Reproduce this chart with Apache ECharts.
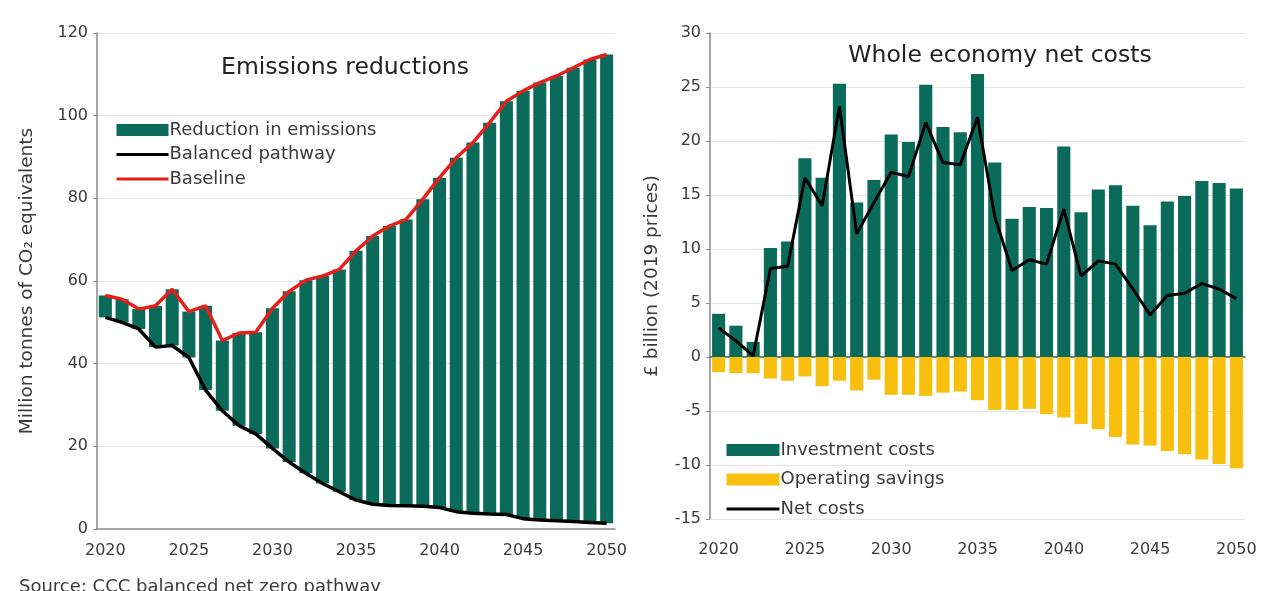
<!DOCTYPE html>
<html>
<head>
<meta charset="utf-8">
<script src="https://cdn.jsdelivr.net/npm/echarts@6/dist/echarts.min.js"></script>
<style>
  html, body { margin: 0; padding: 0; background: #fff; }
  #chart { width: 1263px; height: 591px; }
</style>
</head>
<body>
<div id="chart"></div>
<script>
// years on both panels
const years = []
for (let y = 2020; y <= 2050; y++) years.push(String(y))

// left panel: MtCO2e
const baseline = [56.5, 55.6, 53.2, 54, 58, 52.6, 54, 45.6, 47.4, 47.6, 53.4, 57.5, 60.2, 61.2, 62.8, 67.3,
  70.9, 73.3, 74.9, 79.8, 85, 89.8, 93.5, 98.3, 103.5, 106, 108, 109.6, 111.6, 113.6, 114.8]
const balancedPathway = [51.2, 50, 48.4, 44, 44.4, 41.5, 33.6, 28.6, 25, 23, 19.5, 16.2, 13.5, 11, 9, 7,
  6, 5.7, 5.6, 5.5, 5.2, 4.2, 3.8, 3.6, 3.5, 2.5, 2.2, 2.0, 1.8, 1.6, 1.4]

// right panel: £ billion (2019 prices)
const investmentCosts = [4.0, 2.9, 1.4, 10.1, 10.7, 18.4, 16.6, 25.3, 14.3, 16.4, 20.6, 19.9, 25.2, 21.3, 20.8, 26.2,
  18.0, 12.8, 13.9, 13.8, 19.5, 13.4, 15.5, 15.9, 14.0, 12.2, 14.4, 14.9, 16.3, 16.1, 15.6]
const operatingSavings = [-1.4, -1.5, -1.5, -2.0, -2.2, -1.8, -2.7, -2.2, -3.1, -2.1, -3.5, -3.5, -3.6, -3.3, -3.2, -4.0,
  -4.9, -4.9, -4.8, -5.3, -5.6, -6.2, -6.7, -7.4, -8.1, -8.2, -8.7, -9.0, -9.5, -9.9, -10.3]
const netCosts = [2.7, 1.5, 0.1, 8.2, 8.4, 16.6, 14.0, 23.2, 11.4, 14.3, 17.1, 16.7, 21.7, 18.0, 17.8, 22.2,
  13.0, 8.0, 9.0, 8.6, 13.7, 7.5, 8.9, 8.6, 6.3, 3.9, 5.7, 5.9, 6.8, 6.3, 5.4]

// green bar = gap between baseline and pathway, stacked on an invisible pathway bar
const reduction = baseline.map((v, i) => +(v - balancedPathway[i]).toFixed(1))

const GREEN = '#0b6b5b'
const YELLOW = '#f8bf0f'
const RED = '#e3201b'
const FONT = 'DejaVu Sans'
const TXT = '#3a3a3a'

const catAxis = (grid, extra) => Object.assign({
  type: 'category',
  gridIndex: grid,
  data: years,
  boundaryGap: true,
  axisLine: { lineStyle: { color: '#8a8a8a', width: 1.5 } },
  axisTick: { interval: 4, length: 5, lineStyle: { color: '#8a8a8a' } },
  axisLabel: { interval: 4, color: TXT, fontSize: 16, fontFamily: FONT, margin: 14 }
}, extra)

const valAxis = (grid, min, max, interval, name, gap) => ({
  type: 'value',
  gridIndex: grid,
  min: min, max: max, interval: interval,
  name: name,
  nameLocation: 'middle',
  nameGap: gap,
  nameTextStyle: { color: TXT, fontSize: 18.5, fontFamily: FONT },
  axisLine: { show: true, lineStyle: { color: '#8a8a8a', width: 1.5 } },
  axisTick: { show: true, length: 4, lineStyle: { color: '#8a8a8a' } },
  axisLabel: { color: TXT, fontSize: 16, fontFamily: FONT, margin: 9 },
  splitLine: { lineStyle: { color: '#e6e6e6' } }
})

const lineLegend = (name, color) => ({ name: name, itemStyle: { opacity: 0 }, lineStyle: { color: color, width: 3 } })

const chart = echarts.init(document.getElementById('chart'))
chart.setOption({
  backgroundColor: '#fff',
  animation: false,
  textStyle: { fontFamily: FONT },
  title: [
    { text: 'Emissions reductions', left: 340, top: 51, textAlign: 'center',
      textStyle: { fontSize: 23.5, fontWeight: 'normal', color: '#222', fontFamily: FONT } },
    { text: 'Whole economy net costs', left: 995, top: 39, textAlign: 'center',
      textStyle: { fontSize: 23.5, fontWeight: 'normal', color: '#222', fontFamily: FONT } },
    { text: 'Source: CCC balanced net zero pathway', left: 14, top: 573,
      textStyle: { fontSize: 18, fontWeight: 'normal', color: TXT, fontFamily: FONT } }
  ],
  legend: [
    { orient: 'vertical', left: 110, top: 116, itemWidth: 52, itemHeight: 12, itemGap: 6.5,
      textStyle: { color: TXT, fontSize: 18, fontFamily: FONT, padding: [0, 0, 0, -4] },
      data: [
        { name: 'Reduction in emissions', icon: 'rect' },
        lineLegend('Balanced pathway', '#000'),
        lineLegend('Baseline', RED)
      ] },
    { orient: 'vertical', left: 720, top: 436, itemWidth: 53, itemHeight: 12, itemGap: 11.5,
      textStyle: { color: TXT, fontSize: 18, fontFamily: FONT, padding: [0, 0, 0, -4] },
      data: [
        { name: 'Investment costs', icon: 'rect' },
        { name: 'Operating savings', icon: 'rect' },
        lineLegend('Net costs', '#000')
      ] }
  ],
  grid: [
    { left: 97, right: 648, top: 33, bottom: 62 },
    { left: 710, right: 18, top: 33, bottom: 72 }
  ],
  xAxis: [
    catAxis(0, {}),
    catAxis(1, { axisLine: { show: false, onZero: false }, axisTick: { show: false },
      axisLabel: { interval: 4, color: TXT, fontSize: 16, fontFamily: FONT, margin: 23 } }),
    catAxis(1, { axisLine: { onZero: true, lineStyle: { color: '#555', width: 1.5 } },
      axisLabel: { show: false } })
  ],
  yAxis: [
    valAxis(0, 0, 120, 20, 'Million tonnes of CO\u2082 equivalents', 60),
    valAxis(1, -15, 30, 5, '£ billion (2019 prices)', 48)
  ],
  series: [
    { name: 'base', type: 'bar', xAxisIndex: 0, yAxisIndex: 0, stack: 'em',
      data: balancedPathway, itemStyle: { color: 'transparent' }, barCategoryGap: '22%',
      silent: true },
    { name: 'Reduction in emissions', type: 'bar', xAxisIndex: 0, yAxisIndex: 0, stack: 'em',
      data: reduction, itemStyle: { color: GREEN }, barCategoryGap: '22%' },
    { name: 'Balanced pathway', type: 'line', xAxisIndex: 0, yAxisIndex: 0, data: balancedPathway,
      symbol: 'none', lineStyle: { color: '#000', width: 3.5 }, itemStyle: { color: '#000' }, z: 5 },
    { name: 'Baseline', type: 'line', xAxisIndex: 0, yAxisIndex: 0, data: baseline,
      symbol: 'none', lineStyle: { color: RED, width: 3.5 }, itemStyle: { color: RED }, z: 5 },

    { name: 'Investment costs', type: 'bar', xAxisIndex: 1, yAxisIndex: 1, stack: 'cost',
      data: investmentCosts, itemStyle: { color: GREEN }, barCategoryGap: '24%' },
    { name: 'Operating savings', type: 'bar', xAxisIndex: 1, yAxisIndex: 1, stack: 'cost',
      data: operatingSavings, itemStyle: { color: YELLOW }, barCategoryGap: '24%' },
    { name: 'Net costs', type: 'line', xAxisIndex: 1, yAxisIndex: 1, data: netCosts,
      symbol: 'none', lineStyle: { color: '#000', width: 3 }, itemStyle: { color: '#000' }, z: 5 }
  ]
})
</script>
</body>
</html>
